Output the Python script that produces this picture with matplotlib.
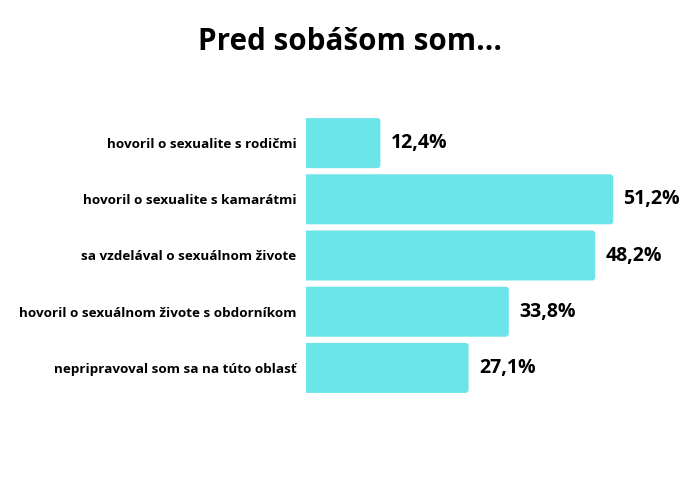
import matplotlib.pyplot as plt
from matplotlib.patches import FancyBboxPatch

# Data
categories = [
    "hovoril o sexualite s rodičmi",
    "hovoril o sexualite s kamarátmi",
    "sa vzdelával o sexuálnom živote",
    "hovoril o sexuálnom živote s obdorníkom",
    "nepripravoval som sa na túto oblasť",
]
values = [12.4, 51.2, 48.2, 33.8, 27.1]

BAR_COLOR = "#6ce5e8"

plt.rcParams['font.family'] = ['Open Sans', 'DejaVu Sans']

fig = plt.figure(figsize=(7, 5), dpi=100)
ax = fig.add_axes([306 / 700, 0.208, 390 / 700, 0.562])

y = list(range(len(categories)))
bars = ax.barh(y, values, height=0.89, color=BAR_COLOR)
ax.set_xlim(0, 65)
ax.set_ylim(len(categories) - 0.5, -0.5)

# swap plain bars for ones with slightly rounded ends
for b in bars:
    b.set_visible(False)
    ax.add_patch(FancyBboxPatch((b.get_x() - 1, b.get_y()), b.get_width() + 1, b.get_height(),
                                boxstyle="round,pad=0,rounding_size=0.5",
                                mutation_aspect=6 / 56.25,
                                facecolor=BAR_COLOR, edgecolor="none"))

for yi, v in zip(y, values):
    ax.text(v + 1.7, yi, f"{v:.1f}%".replace(".", ","), va="center", ha="left",
            fontsize=14, fontweight="bold", color="#000000")

ax.set_yticks(y)
ax.set_yticklabels(categories, fontsize=9.7, fontweight="bold", color="#000000")
ax.tick_params(axis="y", length=0, pad=7)
ax.set_xticks([])
for s in ax.spines.values():
    s.set_visible(False)

fig.text(0.5, 0.916, "Pred sobášom som...", ha="center", va="center",
         fontsize=21.3, fontweight="bold", color="#000000")

fig.savefig("out.png", dpi=100, facecolor="white")
